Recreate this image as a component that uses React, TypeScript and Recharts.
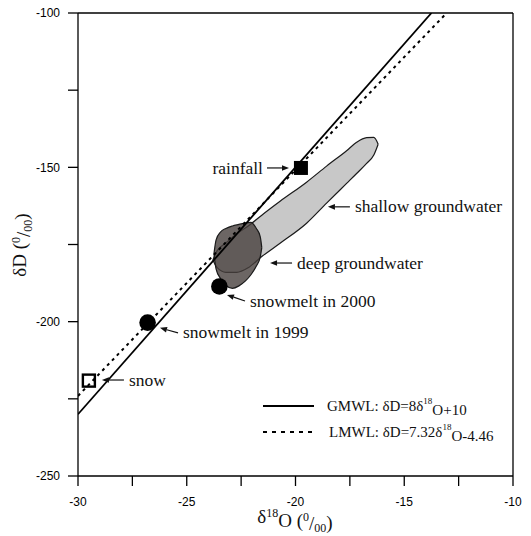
import { ComposedChart, XAxis, YAxis, Scatter, Area, ReferenceLine } from 'recharts';

// tick positions (labels only on every second one)
const xTicks = [-30, -27.5, -25, -22.5, -20, -17.5, -15, -12.5, -10];
const yTicks = [-250, -225, -200, -175, -150, -125, -100];

// meteoric water lines (end points)
const gmwl = [{ x: -30, y: -230 }, { x: -13.75, y: -100 }];
const lmwl = [{ x: -30, y: -224.06 }, { x: -13.05, y: -100 }];

// samples
const rainfall = [{ x: -19.75, y: -150.2 }];
const snowmelt = [{ x: -26.8, y: -200.3 }, { x: -23.5, y: -188.6 }];
const snow = [{ x: -29.5, y: -219.1 }];

// groundwater fields as lower / upper outline
const shallowGw = [
  { x: -23.8, lo: -180, hi: -180 },
  { x: -23.6, lo: -182.5, hi: -177 },
  { x: -23.2, lo: -184, hi: -174.5 },
  { x: -22.7, lo: -184, hi: -171.5 },
  { x: -22.17, lo: -182.5, hi: -169 },
  { x: -21.55, lo: -178.9, hi: -165.5 },
  { x: -20.71, lo: -174.6, hi: -161 },
  { x: -19.49, lo: -168.1, hi: -154.8 },
  { x: -18.57, lo: -161.6, hi: -149.6 },
  { x: -17.65, lo: -155.2, hi: -144.6 },
  { x: -17.19, lo: -152, hi: -141.9 },
  { x: -16.73, lo: -148.7, hi: -140.4 },
  { x: -16.4, lo: -146, hi: -140.3 },
  { x: -16.2, lo: -142.5, hi: -142.5 },
];

const deepGw = [
  { x: -23.75, lo: -178, hi: -178 },
  { x: -23.65, lo: -183, hi: -173.5 },
  { x: -23.45, lo: -186, hi: -171 },
  { x: -23.2, lo: -188.3, hi: -169.8 },
  { x: -22.9, lo: -189.2, hi: -169 },
  { x: -22.6, lo: -188.4, hi: -168.5 },
  { x: -22.3, lo: -186.8, hi: -168 },
  { x: -22.05, lo: -184.8, hi: -167.8 },
  { x: -21.8, lo: -182, hi: -169.8 },
  { x: -21.62, lo: -179, hi: -172.5 },
  { x: -21.55, lo: -176, hi: -176 },
];

// labels, anchored at the arrow head
const notes = [
  { x: -20.3, y: -150.2, text: 'rainfall' },
  { x: -18.51, y: -162.8, text: 'shallow groundwater' },
  { x: -21.17, y: -181.0, text: 'deep groundwater' },
  { x: -23.15, y: -191.35, text: 'snowmelt in 2000' },
  { x: -26.23, y: -202.0, text: 'snowmelt in 1999' },
  { x: -28.9, y: -218.9, text: 'snow' },
];
// arrow tail offset from head, px
const tails: Record<string, [number, number]> = {
  rainfall: [-22, 0],
  'shallow groundwater': [22, 0],
  'deep groundwater': [22, 0],
  'snowmelt in 2000': [18, 6],
  'snowmelt in 1999': [18, 5],
  snow: [22, 0],
};

const serif = '"Liberation Serif", "Times New Roman", serif';

const Note = (props: any) => {
  const { cx, cy, payload } = props;
  const [dx, dy] = tails[payload.text];
  const len = Math.hypot(dx, dy);
  const ux = dx / len;
  const uy = dy / len;
  const bx = cx + ux * 7;
  const by = cy + uy * 7;
  const px = -uy * 2.8;
  const py = ux * 2.8;
  const tx = cx + dx;
  const ty = cy + dy;
  const right = dx > 0;
  return (
    <g>
      <line x1={bx} y1={by} x2={tx} y2={ty} stroke="#111" strokeWidth={1.2} />
      <polygon points={`${cx},${cy} ${bx + px},${by + py} ${bx - px},${by - py}`} fill="#111" />
      <text
        x={tx + (right ? 5 : -4)}
        y={ty}
        dy="0.32em"
        textAnchor={right ? 'start' : 'end'}
        fontFamily={serif}
        fontSize={17.5}
        fill="#111"
      >
        {payload.text}
      </text>
    </g>
  );
};

const Dot = (props: any) => <circle cx={props.cx} cy={props.cy} r={8.3} fill="#000" />;
const FilledSquare = (props: any) => (
  <rect x={props.cx - 7} y={props.cy - 7} width={14} height={14} fill="#000" />
);
const OpenSquare = (props: any) => (
  <rect x={props.cx - 6} y={props.cy - 6} width={12} height={12} fill="none" stroke="#000" strokeWidth={2.4} />
);
const Nothing = () => null;

const axisStroke = { stroke: '#000', strokeWidth: 1.3 };
const tickStyle = { fill: '#000', fontSize: 12, fontFamily: '"Liberation Sans", Arial, sans-serif' };

const App = () => {
  return (
    <div style={{ position: 'absolute', left: 0, top: 0, width: 531, height: 536, background: '#fff' }}>
      <ComposedChart width={531} height={536} margin={{ top: 13, right: 18, bottom: 20, left: 18 }}>
        <XAxis
          dataKey="x"
          type="number"
          domain={[-30, -10]}
          ticks={xTicks}
          interval={0}
          allowDataOverflow
          tickFormatter={(v: number) => (v % 5 === 0 ? String(v) : '')}
          tickSize={10}
          tickMargin={11}
          height={40}
          axisLine={axisStroke}
          tickLine={axisStroke}
          tick={tickStyle}
        />
        <YAxis
          dataKey="y"
          type="number"
          domain={[-250, -100]}
          ticks={yTicks}
          interval={0}
          allowDataOverflow
          tickFormatter={(v: number) => (v % 50 === 0 ? String(v) : '')}
          tickSize={10}
          tickMargin={8}
          width={60}
          axisLine={axisStroke}
          tickLine={axisStroke}
          tick={tickStyle}
        />
        <ReferenceLine y={-100} stroke="#000" strokeWidth={1.3} />
        <ReferenceLine x={-10} stroke="#000" strokeWidth={1.3} />
        <Scatter data={gmwl} line={{ stroke: '#000', strokeWidth: 1.8 }} shape={Nothing} isAnimationActive={false} />
        <Scatter
          data={lmwl}
          line={{ stroke: '#000', strokeWidth: 2, strokeDasharray: '3 4' }}
          shape={Nothing}
          isAnimationActive={false}
        />
        <Area
          data={shallowGw}
          dataKey={(d: any) => [d.lo, d.hi]}
          type="monotone"
          fill="#c8c8c8"
          fillOpacity={1}
          stroke="#1a1a1a"
          strokeWidth={1.2}
          dot={false}
          activeDot={false}
          isAnimationActive={false}
        />
        <Area
          data={deepGw}
          dataKey={(d: any) => [d.lo, d.hi]}
          type="monotone"
          fill="#47403d"
          fillOpacity={0.8}
          stroke="#1a1a1a"
          strokeWidth={1.2}
          dot={false}
          activeDot={false}
          isAnimationActive={false}
        />
        <Scatter data={snowmelt} shape={Dot} isAnimationActive={false} />
        <Scatter data={rainfall} shape={FilledSquare} isAnimationActive={false} />
        <Scatter data={snow} shape={OpenSquare} isAnimationActive={false} />
        <Scatter data={notes} shape={Note} isAnimationActive={false} />
      </ComposedChart>
      <svg
        width={531}
        height={536}
        style={{ position: 'absolute', left: 0, top: 0, pointerEvents: 'none' }}
      >
        <g fontFamily={serif} fill="#111">
          <line x1={263} y1={406} x2={314} y2={406} stroke="#000" strokeWidth={1.8} />
          <text x={327} y={406} dy="0.33em" fontSize={15}>
            GMWL: δD=8δ<tspan fontSize={9} dy="-0.75em">18</tspan>
            <tspan dy="0.75em">O+10</tspan>
          </text>
          <line x1={263} y1={432} x2={316} y2={432} stroke="#000" strokeWidth={2} strokeDasharray="4 5" />
          <text x={329} y={432} dy="0.33em" fontSize={15}>
            LMWL: δD=7.32δ<tspan fontSize={9} dy="-0.75em">18</tspan>
            <tspan dy="0.75em">O-4.46</tspan>
          </text>
          <text x={295} y={523} textAnchor="middle" fontSize={19}>
            δ<tspan fontSize={12} dy="-0.5em">18</tspan>
            <tspan dy="0.5em">O (</tspan>
            <tspan fontSize={12} dy="-0.5em">0</tspan>
            <tspan dy="0.5em">/</tspan>
            <tspan fontSize={12} dy="0.2em">00</tspan>
            <tspan dy="-0.2em">)</tspan>
          </text>
          <text
            x={0}
            y={0}
            dy="0.33em"
            textAnchor="middle"
            fontSize={19}
            transform="translate(20,245) rotate(-90)"
          >
            δD (<tspan fontSize={12} dy="-0.5em">0</tspan>
            <tspan dy="0.5em">/</tspan>
            <tspan fontSize={12} dy="0.2em">00</tspan>
            <tspan dy="-0.2em">)</tspan>
          </text>
        </g>
      </svg>
    </div>
  );
};

export default App;
